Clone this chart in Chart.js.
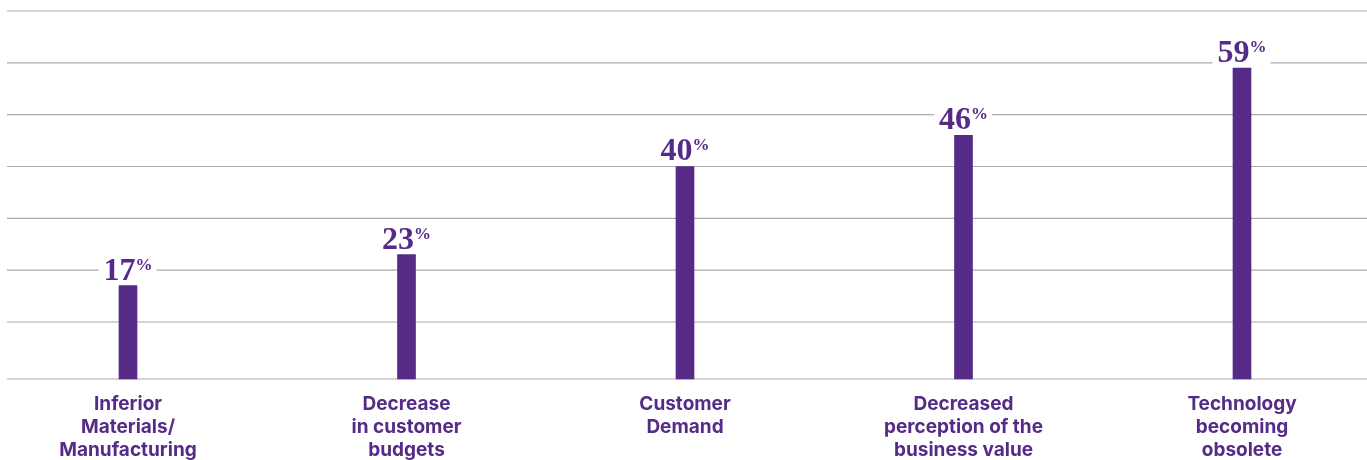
<!DOCTYPE html>
<html>
<head>
<meta charset="utf-8">
<script src="https://cdn.jsdelivr.net/npm/chart.js@4"></script>
<style>
  html, body { margin: 0; padding: 0; background: #fff; }
  .wrap { width: 1367px; height: 460px; }
</style>
</head>
<body>
<div class="wrap"><canvas id="myChart" width="1367" height="460"></canvas></div>
<script>
const categories = [
  ["Inferior", "Materials/", "Manufacturing"],
  ["Decrease", "in customer", "budgets"],
  ["Customer", "Demand"],
  ["Decreased", "perception of the", "business value"],
  ["Technology", "becoming", "obsolete"]
];
const percentValues = [17, 23, 40, 46, 59];
const gridValues = [10, 20, 30, 40, 50, 60, 70];
const yMin = -1;
const yMax = 70;

const purple = "#552b87";
const gridColor = "#ababab";

// gridlines run across the whole canvas, value labels sit on a white patch
const gridAndLabels = {
  id: "gridAndLabels",
  beforeDatasetsDraw(chart) {
    const { ctx, chartArea } = chart;
    const y = chart.scales.y;
    ctx.save();
    ctx.strokeStyle = gridColor;
    ctx.lineWidth = 1.2;
    const rows = y.ticks.map(t => y.getPixelForValue(t.value));
    rows.push(chartArea.bottom);
    rows.forEach(py => {
      ctx.beginPath();
      ctx.moveTo(7, py);
      ctx.lineTo(chart.width, py);
      ctx.stroke();
    });
    ctx.restore();
  },
  afterDatasetsDraw(chart) {
    const ctx = chart.ctx;
    const meta = chart.getDatasetMeta(0);
    ctx.save();
    ctx.textAlign = "left";
    ctx.textBaseline = "alphabetic";
    meta.data.forEach((bar, i) => {
      const num = String(percentValues[i]);
      ctx.font = 'bold 32px "Liberation Serif"';
      const wNum = ctx.measureText(num).width;
      ctx.font = 'bold 17px "Liberation Serif"';
      const wPct = ctx.measureText("%").width;
      const total = wNum + wPct;
      const x0 = bar.x - total / 2;
      const base = bar.y - 6;
      ctx.fillStyle = "#fff";
      ctx.fillRect(x0 - 5, base - 25, total + 9, 28);
      ctx.fillStyle = purple;
      ctx.font = 'bold 32px "Liberation Serif"';
      ctx.fillText(num, x0, base);
      ctx.font = 'bold 17px "Liberation Serif"';
      ctx.fillText("%", x0 + wNum, base - 10);
    });
    ctx.restore();
  }
};

const ctx = document.getElementById("myChart").getContext("2d");
const myChart = new Chart(ctx, {
  type: "bar",
  data: {
    labels: categories,
    datasets: [{
      data: percentValues,
      base: yMin,
      backgroundColor: purple,
      borderWidth: 0,
      barThickness: 18,
      clip: false
    }]
  },
  options: {
    responsive: false,
    devicePixelRatio: 1,
    animation: false,
    layout: { padding: { left: 128, right: 125, top: 11, bottom: -16 } },
    plugins: {
      legend: { display: false },
      tooltip: { enabled: false }
    },
    scales: {
      x: {
        offset: false,
        grid: { display: false, drawTicks: false },
        border: { display: false },
        ticks: {
          color: purple,
          padding: 14,
          maxRotation: 0,
          autoSkip: false,
          font: { family: "Inter", size: 19, weight: "bold", lineHeight: 23 / 19 }
        }
      },
      y: {
        display: false,
        min: yMin,
        max: yMax,
        afterBuildTicks: scale => {
          scale.ticks = gridValues.map(v => ({ value: v }));
        }
      }
    }
  },
  plugins: [gridAndLabels]
});
</script>
</body>
</html>
